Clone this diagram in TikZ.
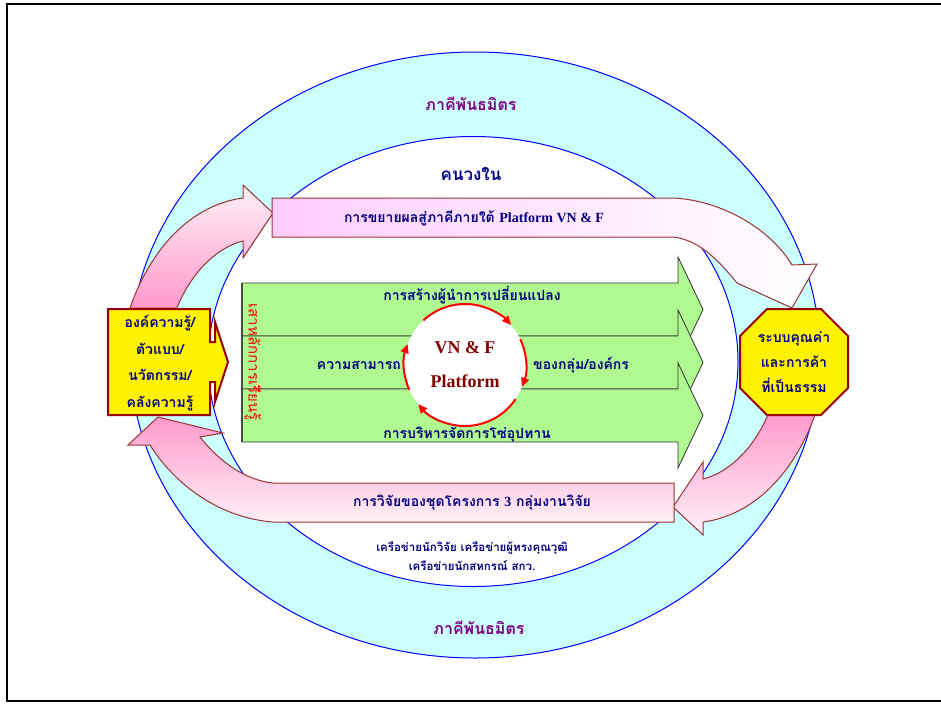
\documentclass[tikz,border=0pt]{standalone}
\usepackage{fontspec}
\setmainfont{Liberation Serif}
\newfontfamily\thai[Script=Thai]{Loma}
\usepackage{tikz}
\usetikzlibrary{arrows.meta, positioning, calc}

\definecolor{cyanfill}{HTML}{CCFFFF}
\definecolor{ringblue}{HTML}{0000FF}
\definecolor{pinkL}{HTML}{FFCCFF}
\definecolor{pinkD}{HTML}{FF99CC}
\definecolor{pinkW}{HTML}{FFF0F6}
\definecolor{arrowrim}{HTML}{993333}
\definecolor{boxrim}{HTML}{990000}
\definecolor{leafgreen}{HTML}{B0F890}
\definecolor{navy}{HTML}{000080}
\definecolor{plum}{HTML}{800080}
\definecolor{maroon}{HTML}{800000}

\tikzset{
  thai/.style={font=\thai\bfseries\fontsize{#1}{#1}\selectfont, text=navy, inner sep=1pt},
  thai/.default=14,
  partner/.style={font=\thai\bfseries\fontsize{16}{16}\selectfont, text=plum},
  bigarrow/.style={draw=arrowrim, line width=1},
  greenarrow/.style={fill=leafgreen, draw=black!80, line width=0.8},
  yellowbox/.style={fill=yellow, draw=boxrim, line width=2},
  cyclearrow/.style={red, line width=2, -{Triangle[length=9pt,width=8pt]}}
}

\begin{document}
\begin{tikzpicture}[x=1pt, y=-1pt]
\useasboundingbox (0,0) rectangle (941,704);

% Frame
\draw[line width=2] (945,4) -- (7,4) -- (7,701) -- (945,701);

% Partner ring and inner circle
\draw[fill=cyanfill, draw=ringblue, line width=1] (475,355) ellipse [x radius=345pt, y radius=303pt];
\draw[fill=white, draw=ringblue, line width=1] (473,361.5) ellipse [x radius=265pt, y radius=225pt];

% Pink arrows of the cycle
\shade[bigarrow, top color=pinkW, bottom color=pinkD]
  (130,308) .. controls (150,250) and (190,205) .. (243,198) -- (243,185) -- (273,213)
  -- (243,258) -- (243,241) .. controls (215,248) and (190,275) .. (177,308) -- cycle;
\shade[bigarrow, left color=pinkL, middle color=pinkL, right color=white]
  (272,198) -- (673,198) .. controls (720,200) and (770,228) .. (792,265) -- (817,264)
  -- (792,308) -- (737,283) .. controls (720,262) and (700,240) .. (673,237) -- (272,237) -- cycle;
\shade[bigarrow, top color=pinkD, bottom color=pinkW]
  (816,412) .. controls (796,470) and (756,515) .. (703,522) -- (703,535) -- (673,507)
  -- (703,462) -- (703,479) .. controls (731,472) and (756,445) .. (769,412) -- cycle;
\shade[bigarrow, top color=pinkD, bottom color=pinkW]
  (674,522) -- (273,522) .. controls (220,518) and (175,485) .. (150,445) -- (128,445)
  -- (158,417) -- (223,433) -- (200,437) .. controls (220,462) and (245,480) .. (273,483)
  -- (674,483) -- cycle;

% Green pillars
\foreach \i in {0,1,2} {
  \pgfmathsetmacro{\t}{283 + 53*\i}
  \draw[greenarrow] (242,\t) -- (678,\t) -- (678,\t-26) -- (703,\t+26.5)
    -- (678,\t+79) -- (678,\t+53) -- (242,\t+53) -- cycle;
}
\draw[black!70, line width=2] (242,283) -- (242,442);

% Platform circle
\node[circle, fill=white, minimum size=122pt, inner sep=0pt, text=maroon, align=center,
  font=\bfseries\fontsize{18}{34}\selectfont] (vnf) at (465,365) {VN \& F\\Platform};
\foreach \a/\b in {133/41, 25/-21, -34/-140, 204/160} {
  \draw[cyclearrow] (vnf.center) ++(\a:61pt) arc[start angle=\a, end angle=\b, radius=61pt];
}

% Texts on the pillars
\node[thai] (leader) at (472,295) {การสร้างผู้นำการเปลี่ยนแปลง};
\node[thai, anchor=east] (ability) at (402,365) {ความสามารถ};
\node[thai, anchor=west] (group) at (532,365) {ของกลุ่ม/องค์กร};
\node[thai] (supply) at (467,435) {การบริหารจัดการโซ่อุปทาน};
\node[font=\thai\fontsize{15}{15}\selectfont, text=red, rotate=-90] (pillar) at (253,362) {เสาหลักการเรียนรู้};

% Knowledge box
\draw[yellowbox] (108,309) -- (210,309) -- (210,342) -- (215,342) -- (215,322) -- (228,362)
  -- (215,402) -- (215,382) -- (210,382) -- (210,415) -- (108,415) -- cycle;
\node[font=\thai\bfseries\fontsize{14}{26.5}\selectfont, text=navy, align=center] (knowledge) at (160,363)
  {องค์ความรู้/\\ตัวแบบ/\\นวัตกรรม/\\คลังความรู้};

% Fair value box
\draw[yellowbox] (767,309) -- (821,309) -- (848,336) -- (848,388) -- (821,415)
  -- (767,415) -- (740,388) -- (740,336) -- cycle;
\node[font=\thai\bfseries\fontsize{14}{25}\selectfont, text=navy, align=center] (fairtrade) at (794,362)
  {ระบบคุณค่า\\และการค้า\\ที่เป็นธรรม};

% Labels
\node[partner] (partnertop) at (471,104) {ภาคีพันธมิตร};
\node[partner] (partnerbot) at (479,628) {ภาคีพันธมิตร};
\node[thai=17] (insider) at (471,174) {คนวงใน};
\node[thai=14] (expand) at (474,218) {การขยายผลสู่ภาคีภายใต้ {\rmfamily Platform VN \& F}};
\node[thai=14] (research) at (472,503) {การวิจัยของชุดโครงการ {\rmfamily 3} กลุ่มงานวิจัย};
\node[font=\thai\bfseries\fontsize{11.5}{19}\selectfont, text=navy, align=center] (network) at (472,556)
  {เครือข่ายนักวิจัย เครือข่ายผู้ทรงคุณวุฒิ\\เครือข่ายนักสหกรณ์ สกว.};
\end{tikzpicture}
\end{document}
